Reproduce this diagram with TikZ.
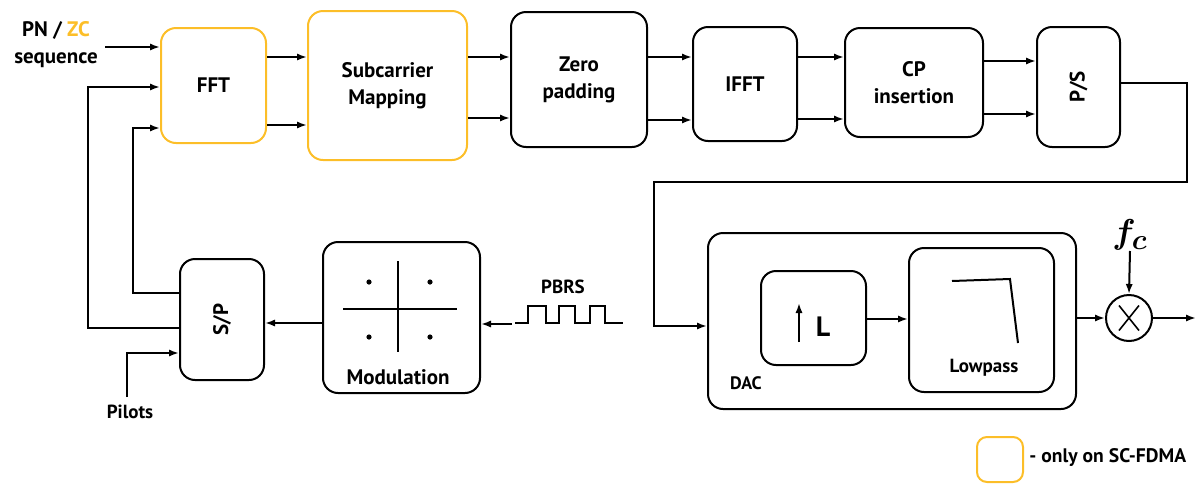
\documentclass[tikz,border=0pt]{standalone}
\usepackage{fontspec}
\setmainfont{PT Sans}
\usetikzlibrary{arrows.meta,calc}
\definecolor{scyellow}{RGB}{252,190,40}
\begin{document}
\begin{tikzpicture}[x=0.5pt,y=-0.5pt,
  every node/.style={font=\fontsize{10.5}{13.5}\selectfont\bfseries},
  blk/.style={draw=black,line width=1pt,rounded corners=7.5pt,align=center,inner sep=0pt},
  yblk/.style={blk,draw=scyellow},
  lbl/.style={inner sep=0pt,align=center},
  arr/.style={line width=1pt,-{Latex[length=5pt,width=3.6pt]}},
  ln/.style={line width=1pt}]
\useasboundingbox (0,0) rectangle (1196,483);
% top chain
\node[yblk,minimum width=52.5pt,minimum height=57.5pt] (fft) at (213.5,85.5) {FFT};
\node[yblk,minimum width=79.5pt,minimum height=74.5pt] (sub) at (387.5,85.5) {Subcarrier\\Mapping};
\node[blk,minimum width=68pt,minimum height=67.5pt] (zero) at (579,79.5) {Zero\\padding};
\node[blk,minimum width=52pt,minimum height=57pt] (ifft) at (745,84) {IFFT};
\node[blk,minimum width=69pt,minimum height=54.5pt] (cp) at (914,82.5) {CP\\insertion};
\node[blk,minimum width=41.5pt,minimum height=60pt] (ps) at (1078.5,87) {\rotatebox{90}{P/S}};
% bottom
\node[blk,minimum width=42pt,minimum height=60.5pt] (sp) at (222,319.5) {\rotatebox{90}{S/P}};
\node[blk,minimum width=78.5pt,minimum height=75.5pt] (mod) at (401.5,317.5) {};
\node[lbl] (modl) at (398,377) {Modulation};
\node[blk,minimum width=184pt,minimum height=88pt] (dac) at (892,321) {};
\node[lbl,font=\fontsize{9}{11}\selectfont\bfseries] (dacl) at (746,383) {DAC};
\node[blk,minimum width=52.5pt,minimum height=47pt] (up) at (813.5,318) {};
\node[lbl,font=\fontsize{14}{16}\selectfont\bfseries] (upl) at (823,327) {L};
\node[blk,minimum width=72.5pt,minimum height=72pt] (lp) at (981.5,320) {};
\node[lbl,font=\fontsize{9.5}{11}\selectfont\bfseries] (lpl) at (984,368) {Lowpass};
\node[draw,circle,line width=1pt,minimum size=23pt,inner sep=0pt] (mix) at (1129,318) {};
\node[lbl,anchor=south,font=\fontsize{19}{22}\selectfont\boldmath] (fc) at (1130,251) {$f_c$};
% labels
\node[lbl] (pn) at (56,45) {PN / \textcolor{scyellow}{ZC}\\sequence};
\node[lbl,font=\fontsize{9.5}{11}\selectfont\bfseries] (pil) at (130,412) {Pilots};
\node[lbl,font=\fontsize{9.5}{11}\selectfont\bfseries] (pbrs) at (563,287) {PBRS};
% legend
\node[draw=scyellow,line width=1pt,rounded corners=5pt,minimum width=23pt,minimum height=22.5pt,inner sep=0pt] (leg) at (1000,459.5) {};
\node[lbl,anchor=west,font=\fontsize{9.8}{12}\selectfont\bfseries] (legt) at (1029,458) {- only on SC-FDMA};
% coordinates
\coordinate (pnin) at (105,47);
\coordinate (pilb) at (127,397);
\coordinate (pbrsin) at (512,324);
\coordinate (out) at (1196,318);
% top connectors
\draw[arr] (pnin) -- (fft.west |- pnin);
\draw[arr] (fft.east |- 0,57) -- (sub.west |- 0,57);
\draw[arr] (fft.east |- 0,125) -- (sub.west |- 0,125);
\draw[arr] (sub.east |- 0,57) -- (zero.west |- 0,57);
\draw[arr] (sub.east |- 0,118) -- (zero.west |- 0,118);
\draw[arr] (zero.east |- 0,57) -- (ifft.west |- 0,57);
\draw[arr] (zero.east |- 0,120) -- (ifft.west |- 0,120);
\draw[arr] (ifft.east |- 0,57) -- (cp.west |- 0,57);
\draw[arr] (ifft.east |- 0,119) -- (cp.west |- 0,119);
\draw[arr] (cp.east |- 0,61) -- (ps.west |- 0,61);
\draw[arr] (cp.east |- 0,114) -- (ps.west |- 0,114);
\draw[arr] (ps.east |- 0,83) -- (1187,83) -- (1187,182) -- (654,182) -- (654,326) -- (dac.west |- 0,326);
% feedback to FFT
\draw[arr] (sp.west |- 0,293) -- (133,293) -- (133,128) -- (fft.west |- 0,128);
\draw[arr] (sp.west |- 0,328) -- (88,328) -- (88,87) -- (fft.west |- 0,87);
\draw[arr] (pilb) -- (127,353) -- (sp.west |- 0,353);
\draw[arr] (mod.west |- 0,323) -- (sp.east |- 0,323);
\draw[arr] (pbrsin) -- (mod.east |- pbrsin);
% PBRS waveform
\draw[ln] (515,323) -- (528,323) -- (528,306) -- (546,306) -- (546,323) -- (559,323) -- (559,306) -- (575,306) -- (575,323) -- (590,323) -- (590,306) -- (605,306) -- (605,323) -- (623,323);
% constellation
\draw[ln] (343,309) -- (457,309);
\draw[ln] (398,261) -- (398,352);
\foreach \px/\py in {369/282,430/282,369/337,430/337} \fill (\px,\py) circle (1.3pt);
% DAC internals
\draw[arr] (799,342) -- (799,303);
\draw[arr] (up.east |- 0,319) -- (lp.west |- 0,319);
\draw[ln] (952,281) -- (1010,279) -- (1018,343);
\draw[arr] (dac.east |- mix) -- (mix.west);
\draw[arr] (mix.east) -- (out);
\draw[arr] (fc.south) -- (mix.north);
\draw[line width=0.8pt] ($(mix)+(-10,-12.5)$) -- ($(mix)+(10,12.5)$);
\draw[line width=0.8pt] ($(mix)+(-10,12.5)$) -- ($(mix)+(10,-12.5)$);
\end{tikzpicture}
\end{document}
